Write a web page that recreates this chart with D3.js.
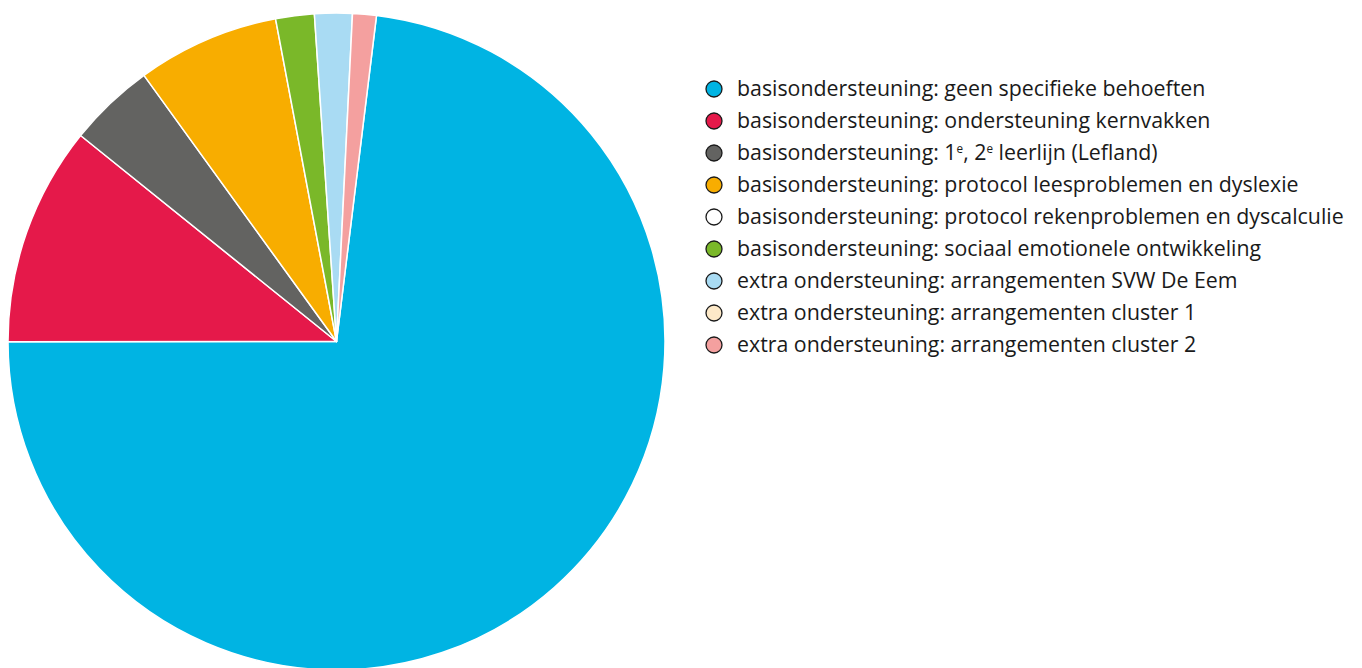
<!DOCTYPE html>
<html><head><meta charset="utf-8">
<script src="https://cdn.jsdelivr.net/npm/d3@7"></script>
<style>body{margin:0;background:#fff;} svg{display:block;}</style>
</head><body>
<svg id="c" width="1362" height="668"></svg>
<script>
const categories = [
  "basisondersteuning: geen specifieke behoeften",
  "basisondersteuning: ondersteuning kernvakken",
  "basisondersteuning: 1^e, 2^e leerlijn (Lefland)",
  "basisondersteuning: protocol leesproblemen en dyslexie",
  "basisondersteuning: protocol rekenproblemen en dyscalculie",
  "basisondersteuning: sociaal emotionele ontwikkeling",
  "extra ondersteuning: arrangementen SVW De Eem",
  "extra ondersteuning: arrangementen cluster 1",
  "extra ondersteuning: arrangementen cluster 2"
];
const values = [73.1, 10.8, 4.25, 7.0, 0, 1.9, 1.85, 0, 1.17];
const colors = ["#00b4e3","#e5194a","#636361","#f8ad00","#ffffff","#7ab829","#a9dbf3","#fde9c8","#f4a09f"];

const svg = d3.select("#c");
const cx = 336.5, cy = 341.5, R = 328.5;
const pie = d3.pie().sort(null).value(d => d.v)
  .startAngle(7 * Math.PI / 180).endAngle(7 * Math.PI / 180 + 2 * Math.PI);
const data = categories.map((c, i) => ({c, v: values[i], col: colors[i]}));
const arc = d3.arc().innerRadius(0).outerRadius(R);
svg.append("g").attr("transform", `translate(${cx},${cy})`)
  .selectAll("path").data(pie(data).filter(d => d.data.v > 0)).join("path")
  .attr("d", arc).attr("fill", d => d.data.col)
  .attr("stroke", "#fff").attr("stroke-width", 1.5).attr("stroke-linejoin", "round");

const font = "'Open Sans', sans-serif";
const lg = svg.append("g");
const rows = lg.selectAll("g").data(data).join("g")
  .attr("transform", (d, i) => `translate(714,${89 + i * 32})`);
rows.append("circle").attr("r", 8).attr("fill", d => d.col)
  .attr("stroke", "#1a1a1a").attr("stroke-width", 1.3);
const texts = rows.append("text").attr("x", 23).attr("y", 7)
  .attr("font-family", font).attr("font-size", 20).attr("fill", "#1a1a1a");
texts.each(function(d) {
  const t = d3.select(this);
  const parts = d.c.split(/(\^e)/).filter(p => p.length);
  let pending = 0;
  parts.forEach(p => {
    if (p === "^e") {
      t.append("tspan").attr("font-size", "0.55em").attr("dy", -7).text("e");
      pending = 7;
    } else {
      const s = t.append("tspan").text(p);
      if (pending) { s.attr("dy", pending); pending = 0; }
    }
  });
});
// fit longest label width to reference (~607px)
let maxW = 0;
texts.each(function() { maxW = Math.max(maxW, this.getComputedTextLength()); });
const fs = 20 * 607 / maxW;
texts.attr("font-size", fs);
</script>
</body></html>
